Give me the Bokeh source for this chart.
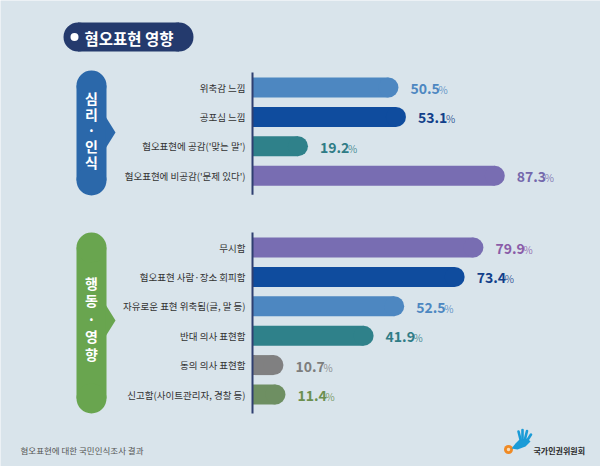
from bokeh.plotting import figure
from bokeh.models import Range1d
from bokeh.core.properties import value
from bokeh.embed import file_html
from bokeh.resources import INLINE

# ---- data ----
g1_labels = ["위축감 느낌", "공포심 느낌", "혐오표현에 공감('맞는 말')", "혐오표현에 비공감('문제 있다')"]
g1_values = [50.5, 53.1, 19.2, 87.3]
g1_colors = ["#4d87c1", "#0f4c9e", "#2f818a", "#786db2"]
g1_text_colors = ["#4d87c1", "#123f8a", "#2f7c86", "#7468ac"]

g2_labels = ["무시함", "혐오표현 사람·장소 회피함", "자유로운 표현 위축됨(글, 말 등)",
             "반대 의사 표현함", "동의 의사 표현함", "신고함(사이트관리자, 경찰 등)"]
g2_values = [79.9, 73.4, 52.5, 41.9, 10.7, 11.4]
g2_colors = ["#786db2", "#0f4c9e", "#4d87c1", "#2f818a", "#808081", "#6e8f62"]
g2_text_colors = ["#8a5ca8", "#123f8a", "#4d87c1", "#2f7c86", "#7d7d7d", "#6b8f4f"]

title = "혐오표현 영향"
g1_section = ["심", "리", "·", "인", "식"]
g2_section = ["행", "동", "·", "영", "향"]
footer = "혐오표현에 대한 국민인식조사 결과"
logo_text = "국가인권위원회"

BG = "#d9e4eb"
KR = value("Noto Sans CJK KR")

W, H = 600, 466
p = figure(width=W, height=H, output_backend="svg", toolbar_location=None,
           x_range=Range1d(0, W), y_range=Range1d(H, 0),
           x_axis_location=None, y_axis_location=None, min_border=0,
           background_fill_color=BG, border_fill_color=BG, outline_line_color=None)
p.grid.visible = False

# value scale: 0 at pixel 252, 2.89 px per percent
K = 2.89
AX = 252
xs = -AX / K
p.extra_x_ranges = {"val": Range1d(xs, xs + W / K)}

BAR_H = 20
R = BAR_H / 2
STEP = 29.4


def draw_group(labels, vals, colors, tcolors, y0):
    ys = [y0 + i * STEP for i in range(len(vals))]
    ends = [v - R / K for v in vals]
    p.hbar(y=ys, left=0, right=ends, height=BAR_H, fill_color=colors, line_color=None,
           x_range_name="val")
    p.scatter(x=ends, y=ys, size=BAR_H, marker="circle", fill_color=colors, line_color=None,
              x_range_name="val")
    # axis line
    p.segment(x0=[0], x1=[0], y0=[ys[0] - 15], y1=[ys[-1] + 19], line_color="#2f3f70",
              line_width=2, x_range_name="val")
    # category labels
    p.text(x=[0] * len(ys), y=ys, text=labels, x_offset=-7, text_align="right",
           text_baseline="middle", text_font=KR, text_font_size="9.5px",
           text_color="#333333", x_range_name="val")
    nums = ["%.1f" % v for v in vals]
    p.text(x=vals, y=ys, text=nums, x_offset=12, y_offset=1, text_align="left",
           text_baseline="middle", text_font=KR, text_font_size="14px",
           text_font_style="bold", text_color=tcolors, x_range_name="val")
    p.text(x=vals, y=ys, text=["%"] * len(vals), x_offset=40, y_offset=2, text_align="left",
           text_baseline="middle", text_font=KR, text_font_size="10px",
           text_color=tcolors, text_alpha=0.85, x_range_name="val")
    return ys


ys1 = draw_group(g1_labels, g1_values, g1_colors, g1_text_colors, 87)
ys2 = draw_group(g2_labels, g2_values, g2_colors, g2_text_colors, 247)


def pill(cx, top, bottom, color, tip_y, chars, offs, center):
    r = 15
    p.quad(left=cx - r, right=cx + r, top=top + r, bottom=bottom - r, fill_color=color,
           line_color=None)
    p.scatter(x=[cx, cx], y=[top + r, bottom - r], size=2 * r, marker="circle",
              fill_color=color, line_color=None)
    p.patch(x=[cx + r - 1, cx + r + 9, cx + r - 1], y=[tip_y - 16, tip_y, tip_y + 16],
            fill_color=color, line_color=None)
    p.text(x=[cx] * len(chars), y=[center + o for o in offs], text=chars, text_align="center",
           text_baseline="middle", text_font=KR, text_font_size="14px",
           text_font_style="bold", text_color="white")


pill(91, 70, 195, "#2b68aa", 132, g1_section, [-33, -16.5, -0.5, 15, 31], 130)
pill(91, 232, 413, "#69a54f", 320, g2_section, [-38, -21, -2, 15, 33], 320)

# title pill
tl, tr, tt, tb = 63, 193, 22, 51
tr_ = (tb - tt) / 2
tcy = (tt + tb) / 2
p.quad(left=tl + tr_, right=tr - tr_, top=tt, bottom=tb, fill_color="#243a6d", line_color=None)
p.scatter(x=[tl + tr_, tr - tr_], y=[tcy, tcy], size=tb - tt, marker="circle",
          fill_color="#243a6d", line_color=None)
p.scatter(x=[74], y=[tcy], size=8, marker="circle", fill_color="white", line_color=None)
p.text(x=[84], y=[tcy + 1], text=[title], text_align="left", text_baseline="middle",
       text_font=KR, text_font_size="15.5px", text_font_style="bold", text_color="white")

# footer
p.text(x=[20], y=[449], text=[footer], text_align="left", text_baseline="middle",
       text_font=KR, text_font_size="8.5px", text_color="#555555")

# logo
p.scatter(x=[508], y=[449], size=9, marker="circle", fill_color="#f08a24", line_color=None)
p.scatter(x=[508], y=[449], size=3.5, marker="circle", fill_color="#f9dcb5", line_color=None)
p.patch(x=[511, 515, 519, 527, 530, 525, 517], y=[448, 443, 439, 438, 441, 446, 449],
        fill_color="#1a9bd7", line_color=None)
p.segment(x0=[520, 522, 524.5, 527], y0=[439, 438.5, 438.5, 439.5],
          x1=[518, 522, 526.5, 530.5], y1=[431, 429.5, 430.5, 434],
          line_color="#1a9bd7", line_width=2.6, line_cap="round")
p.text(x=[533], y=[450], text=[logo_text], text_align="left", text_baseline="middle",
       text_font=KR, text_font_size="8px", text_font_style="bold", text_color="#2a2a2a")

html = file_html(p, INLINE)
html = html.replace("<body>", '<body style="background:%s">' % BG, 1)
open("out.html", "w").write(html)
